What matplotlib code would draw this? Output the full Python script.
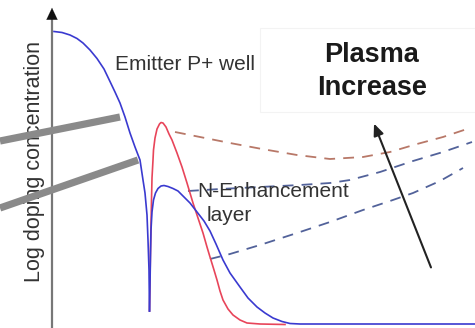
import matplotlib
matplotlib.use("Agg")
import matplotlib.pyplot as plt
from matplotlib.patches import Rectangle

# Schematic doping profile, coordinates (x = depth, y = level from top)

# P+ emitter profile (blue), left branch down to the junction cusp
emitter_x = [54, 62, 70, 77, 83, 90, 97, 104, 110, 115, 120, 125, 130, 135, 140, 143, 145, 147, 148, 149, 149.5]
emitter_y = [31.5, 32.5, 35, 38.5, 43, 50, 58.5, 69, 81.5, 92, 103, 117, 133, 147, 160, 180, 193, 215, 240, 270, 311]

# N enhancement layer, low dose (blue)
n_low_x = [149.5, 150, 150.5, 151, 152, 153.5, 155.5, 158, 161, 164, 168, 173, 178, 183, 190, 197, 204, 210,
           216, 223, 230, 240, 248, 257, 265, 273, 282, 290, 300, 475]
n_low_y = [311, 285, 255, 230, 212, 200, 193, 188.5, 186, 185.5, 186.5, 188.5, 191, 196, 203, 212, 221, 231,
           244, 260, 273, 287, 298, 307, 313, 318, 321.5, 323.5, 324, 324]

# N enhancement layer, high dose (red)
n_high_x = [149.5, 150, 150.5, 151, 151.5, 152, 153, 153.5, 155, 157, 159.5, 161, 163, 166, 169, 172, 177, 182,
            187, 193, 198, 203, 207, 210, 214, 217, 220, 223, 228, 233, 240, 247, 260, 285]
n_high_y = [311, 280, 250, 225, 200, 178, 160, 150, 138, 129, 124, 122.5, 123, 127, 134, 140, 153, 167,
            183, 203, 218, 233, 247, 257, 270, 280, 291, 300, 309, 315, 320, 323, 324, 324.5]

# plasma (carrier) profiles, dashed
plasma_hi_x = [175, 200, 230, 262, 297, 330, 363, 390, 417, 443, 467]
plasma_hi_y = [132, 137, 143, 149, 155, 159, 157, 152, 144, 137, 129]
plasma_mid_x = [188, 220, 260, 300, 330, 350, 380, 413, 443, 472]
plasma_mid_y = [191, 189, 187, 185, 183, 180, 172, 161, 152, 142]
plasma_lo_x = [210, 230, 260, 297, 330, 363, 390, 413, 440, 463]
plasma_lo_y = [259, 254, 245, 233, 222, 210, 201, 193, 181, 168]

# grey callout bars from the left edge
bar1_x, bar1_y = [0, 120], [141, 117]
bar2_x, bar2_y = [0, 138], [208, 160]

plt.rcParams['font.family'] = ['Liberation Sans', 'DejaVu Sans']

fig = plt.figure(figsize=(4.75, 3.28), dpi=100)
ax = fig.add_axes([0, 0, 1, 1])
ax.set_xlim(0, 475)
ax.set_ylim(328, 0)
ax.axis('off')

blue = '#3a3ad0'
red = '#e8455a'
txt = '#333333'

# y axis with arrow head
ax.plot([52, 52], [328, 17], color='#777777', lw=1.6, zorder=2)
ax.annotate('', xy=(52, 5), xytext=(52, 19),
            arrowprops=dict(arrowstyle='-|>,head_length=0.85,head_width=0.4', color='#111111', lw=0.1), zorder=3)

ax.text(40, 161.5, 'Log doping concentration', rotation=90, rotation_mode='anchor',
        ha='center', va='baseline', fontsize=15.5, color=txt)

# profiles
ax.plot(n_high_x, n_high_y, color=red, lw=1.2, zorder=4)
ax.plot(emitter_x, emitter_y, color=blue, lw=1.2, zorder=5)
ax.plot(n_low_x, n_low_y, color=blue, lw=1.2, zorder=5)

dash = (0, (6, 4.5))
ax.plot(plasma_hi_x, plasma_hi_y, color='#b87868', lw=1.3, ls=dash, zorder=3)
ax.plot(plasma_mid_x, plasma_mid_y, color='#52629a', lw=1.3, ls=dash, zorder=3)
ax.plot(plasma_lo_x, plasma_lo_y, color='#52629a', lw=1.3, ls=dash, zorder=3)

# grey bars on top
ax.plot(bar1_x, bar1_y, color='#8a8a8a', lw=5.2, solid_capstyle='butt', zorder=6)
ax.plot(bar2_x, bar2_y, color='#8a8a8a', lw=5.2, solid_capstyle='butt', zorder=6)

# labels
ax.text(115, 70, 'Emitter P+ well', fontsize=15, color=txt, va='baseline', zorder=7)
ax.text(197, 197, 'N-Enhancement', fontsize=15, color=txt, va='baseline', zorder=7)
ax.text(207, 221, 'layer', fontsize=15, color=txt, va='baseline', zorder=7)

# plasma increase box + arrow
ax.add_patch(Rectangle((260, 28), 220, 84, facecolor='white', edgecolor='#f3f3f3', lw=0.8, zorder=1))
ax.text(372, 62, 'Plasma', fontsize=19.5, fontweight='bold', color='#1a1a1a', ha='center', va='baseline')
ax.text(372, 95, 'Increase', fontsize=19.5, fontweight='bold', color='#1a1a1a', ha='center', va='baseline')
ax.annotate('', xy=(373, 121), xytext=(432, 270),
            arrowprops=dict(arrowstyle='-|>,head_length=0.7,head_width=0.3', color='#222222', lw=1.5))

fig.savefig('out.png', dpi=100)
